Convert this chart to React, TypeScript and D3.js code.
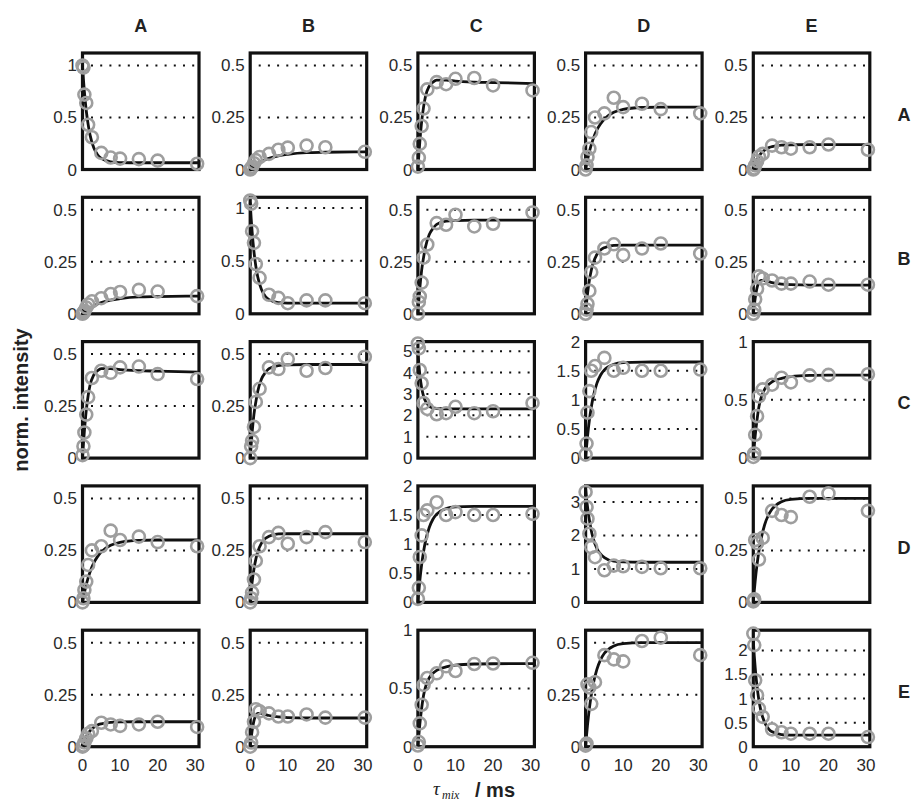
import React, { useRef, useEffect } from "react";
import { select, scaleLinear, line, curveMonotoneX } from "d3";

// row / column species
const names = ["A", "B", "C", "D", "E"];

// mixing times of the measured points and of the sampled fit curve (ms)
const obsTimes = [0, 0.25, 0.5, 1, 1.5, 2.5, 5, 7.5, 10, 15, 20, 30.5];
const fitTimes = [0, 0.25, 0.5, 1, 1.5, 2, 3, 4, 5, 7.5, 10, 15, 20, 31];
const xTicks = [0, 10, 20, 30];

// y tick sets
const ticksHalf = [0, 0.25, 0.5];
const ticksOne = [0, 0.5, 1];
const ticksTwo = [0, 0.5, 1, 1.5, 2];
const ticksThree = [0, 1, 2, 3];
const ticksFive = [0, 1, 2, 3, 4, 5];

// measured intensities (the matrix is symmetric, so only one triangle)
const obsAA = [1.0, 0.98, 0.72, 0.64, 0.43, 0.31, 0.16, 0.115, 0.105, 0.1, 0.085, 0.055];
const obsAB = [0, 0.005, 0.013, 0.03, 0.045, 0.06, 0.075, 0.095, 0.105, 0.115, 0.107, 0.085];
const obsAC = [0.014, 0.057, 0.123, 0.209, 0.293, 0.385, 0.42, 0.41, 0.436, 0.44, 0.404, 0.38];
const obsAD = [0, 0.02, 0.06, 0.1, 0.18, 0.25, 0.27, 0.345, 0.3, 0.316, 0.29, 0.27];
const obsAE = [0, 0.005, 0.02, 0.04, 0.062, 0.075, 0.115, 0.107, 0.1, 0.107, 0.12, 0.095];
const obsBB = [1.07, 1.04, 0.78, 0.67, 0.47, 0.34, 0.18, 0.15, 0.1, 0.127, 0.127, 0.1];
const obsBC = [0, 0.057, 0.083, 0.15, 0.27, 0.333, 0.436, 0.428, 0.476, 0.42, 0.433, 0.487];
const obsBD = [0, 0.02, 0.047, 0.11, 0.2, 0.27, 0.314, 0.334, 0.282, 0.314, 0.338, 0.29];
const obsBE = [0, 0.02, 0.07, 0.12, 0.18, 0.17, 0.16, 0.145, 0.145, 0.155, 0.14, 0.14];
const obsCC = [5.36, 5.13, 4.12, 3.5, 2.57, 2.3, 2.05, 2.1, 2.4, 2.1, 2.19, 2.58];
const obsCD = [0.06, 0.25, 0.78, 1.15, 1.5, 1.58, 1.72, 1.5, 1.55, 1.5, 1.5, 1.52];
const obsCE = [0.01, 0.04, 0.2, 0.36, 0.53, 0.59, 0.63, 0.69, 0.65, 0.71, 0.714, 0.72];
const obsDD = [3.3, 2.85, 2.5, 2.05, 1.65, 1.35, 0.96, 1.1, 1.08, 1.06, 1.02, 1.02];
const obsDE = [0.005, 0.015, 0.3, 0.285, 0.206, 0.31, 0.44, 0.42, 0.41, 0.508, 0.524, 0.44];
const obsEE = [2.35, 2.11, 1.38, 1.07, 0.79, 0.62, 0.36, 0.3, 0.27, 0.27, 0.27, 0.2];

// fitted curves, read at fitTimes
const fitAA = [1.0, 0.864, 0.749, 0.565, 0.434, 0.333, 0.208, 0.142, 0.106, 0.074, 0.067, 0.065, 0.065, 0.065];
const fitAB = [0, 0.004, 0.008, 0.015, 0.022, 0.028, 0.038, 0.047, 0.054, 0.066, 0.073, 0.081, 0.083, 0.085];
const fitAC = [0, 0.07, 0.13, 0.23, 0.3, 0.35, 0.4, 0.42, 0.43, 0.43, 0.425, 0.42, 0.418, 0.413];
const fitAD = [0, 0.024, 0.046, 0.085, 0.118, 0.146, 0.19, 0.22, 0.243, 0.275, 0.289, 0.298, 0.3, 0.3];
const fitAE = [0, 0.014, 0.026, 0.047, 0.063, 0.076, 0.093, 0.104, 0.11, 0.117, 0.119, 0.12, 0.12, 0.12];
const fitBB = [1.05, 0.904, 0.781, 0.588, 0.449, 0.35, 0.229, 0.166, 0.134, 0.106, 0.101, 0.1, 0.1, 0.1];
const fitBC = [0, 0.064, 0.12, 0.21, 0.27, 0.32, 0.38, 0.41, 0.43, 0.445, 0.448, 0.45, 0.45, 0.45];
const fitBD = [0, 0.052, 0.095, 0.161, 0.208, 0.243, 0.285, 0.307, 0.318, 0.329, 0.33, 0.33, 0.33, 0.33];
const fitBE = [0, 0.04, 0.075, 0.125, 0.15, 0.16, 0.16, 0.155, 0.15, 0.143, 0.14, 0.138, 0.138, 0.138];
const fitCC = [5.0, 4.4, 3.94, 3.29, 2.9, 2.67, 2.43, 2.35, 2.32, 2.3, 2.3, 2.3, 2.3, 2.3];
const fitCD = [0, 0.194, 0.365, 0.649, 0.87, 1.043, 1.282, 1.427, 1.515, 1.611, 1.639, 1.649, 1.65, 1.65];
const fitCE = [0, 0.1, 0.19, 0.33, 0.44, 0.51, 0.59, 0.63, 0.655, 0.685, 0.7, 0.71, 0.712, 0.713];
const fitDD = [3.4, 3.11, 2.87, 2.47, 2.15, 1.92, 1.61, 1.44, 1.34, 1.23, 1.21, 1.2, 1.2, 1.2];
const fitDE = [0, 0.054, 0.102, 0.183, 0.247, 0.299, 0.372, 0.419, 0.449, 0.484, 0.495, 0.5, 0.5, 0.5];
const fitEE = [2.2, 1.9, 1.65, 1.246, 0.961, 0.754, 0.505, 0.378, 0.31, 0.253, 0.242, 0.24, 0.24, 0.24];

// panel table built from the arrays above
const panels = {
  AA: { obs: obsAA, fit: fitAA, ticks: ticksOne, yMax: 1.12 },
  AB: { obs: obsAB, fit: fitAB, ticks: ticksHalf, yMax: 0.56 },
  AC: { obs: obsAC, fit: fitAC, ticks: ticksHalf, yMax: 0.56 },
  AD: { obs: obsAD, fit: fitAD, ticks: ticksHalf, yMax: 0.56 },
  AE: { obs: obsAE, fit: fitAE, ticks: ticksHalf, yMax: 0.56 },
  BB: { obs: obsBB, fit: fitBB, ticks: ticksOne, yMax: 1.1 },
  BC: { obs: obsBC, fit: fitBC, ticks: ticksHalf, yMax: 0.56 },
  BD: { obs: obsBD, fit: fitBD, ticks: ticksHalf, yMax: 0.56 },
  BE: { obs: obsBE, fit: fitBE, ticks: ticksHalf, yMax: 0.56 },
  CC: { obs: obsCC, fit: fitCC, ticks: ticksFive, yMax: 5.45 },
  CD: { obs: obsCD, fit: fitCD, ticks: ticksTwo, yMax: 2.0 },
  CE: { obs: obsCE, fit: fitCE, ticks: ticksOne, yMax: 1.0 },
  DD: { obs: obsDD, fit: fitDD, ticks: ticksThree, yMax: 3.48 },
  DE: { obs: obsDE, fit: fitDE, ticks: ticksHalf, yMax: 0.56 },
  EE: { obs: obsEE, fit: fitEE, ticks: ticksTwo, yMax: 2.42 },
};

const W = 913;
const H = 803;
const left0 = 82.5;
const stepX = 167.7;
const top0 = 53;
const stepY = 144.3;
const size = 116.5;
const sans = "'Liberation Sans', Arial, Helvetica, sans-serif";
const serif = "'Liberation Serif', 'DejaVu Serif', 'Times New Roman', serif";

const App = () => {
  const svgRef = useRef(null);

  useEffect(() => {
    const svg = select(svgRef.current);
    svg.selectAll("*").remove();

    names.forEach((rowName, i) => {
      names.forEach((colName, j) => {
        const key = i <= j ? rowName + colName : colName + rowName;
        const p = panels[key];
        const x0 = left0 + j * stepX;
        const y0 = top0 + i * stepY;

        const x = scaleLinear().domain([0, 31]).range([x0, x0 + size]);
        const y = scaleLinear().domain([0, p.yMax]).range([y0 + size, y0]);
        const g = svg.append("g");

        // dotted grid lines (none at 0 or on the top edge)
        g.selectAll(".grid")
          .data(p.ticks.filter((t) => t > 0 && t < p.yMax - 1e-6))
          .join("line")
          .attr("class", "grid")
          .attr("x1", x0 + 8.5)
          .attr("x2", x0 + size - 3)
          .attr("y1", (t) => y(t))
          .attr("y2", (t) => y(t))
          .attr("stroke", "#111")
          .attr("stroke-width", 2)
          .attr("stroke-dasharray", "2 7.2");

        // y tick labels
        g.selectAll(".ytick")
          .data(p.ticks)
          .join("text")
          .attr("class", "ytick")
          .attr("x", x0 - 5.5)
          .attr("y", (t) => y(t) + 6)
          .attr("text-anchor", "end")
          .attr("font-family", sans)
          .attr("font-size", 17)
          .attr("fill", "#2a2a2a")
          .text((t) => String(t));

        // x tick labels on the bottom row only
        if (i === names.length - 1) {
          g.selectAll(".xtick")
            .data(xTicks)
            .join("text")
            .attr("class", "xtick")
            .attr("x", (t) => x(t))
            .attr("y", y0 + size + 24)
            .attr("text-anchor", "middle")
            .attr("font-family", sans)
            .attr("font-size", 17)
            .attr("fill", "#2a2a2a")
            .text((t) => String(t));
        }

        // box
        g.append("rect")
          .attr("x", x0)
          .attr("y", y0)
          .attr("width", size)
          .attr("height", size)
          .attr("fill", "none")
          .attr("stroke", "#111")
          .attr("stroke-width", 3.2);

        // fitted curve
        const fitLine = line()
          .x((d) => x(d[0]))
          .y((d) => y(d[1]))
          .curve(curveMonotoneX);
        g.append("path")
          .datum(fitTimes.map((t, k) => [t, p.fit[k]]))
          .attr("d", fitLine)
          .attr("fill", "none")
          .attr("stroke", "#111")
          .attr("stroke-width", 2.8);

        // measured points
        g.selectAll(".pt")
          .data(obsTimes.map((t, k) => [t, p.obs[k]]))
          .join("circle")
          .attr("class", "pt")
          .attr("cx", (d) => x(d[0]))
          .attr("cy", (d) => y(d[1]))
          .attr("r", 6)
          .attr("fill", "none")
          .attr("stroke", "#9e9e9e")
          .attr("stroke-width", 2.6);
      });
    });

    // column headers
    svg.selectAll(".colname")
      .data(names)
      .join("text")
      .attr("class", "colname")
      .attr("x", (d, j) => left0 + j * stepX + size / 2)
      .attr("y", 32)
      .attr("text-anchor", "middle")
      .attr("font-family", sans)
      .attr("font-weight", "bold")
      .attr("font-size", 18)
      .attr("fill", "#222")
      .text((d) => d);

    // row headers
    svg.selectAll(".rowname")
      .data(names)
      .join("text")
      .attr("class", "rowname")
      .attr("x", 904)
      .attr("y", (d, i) => top0 + i * stepY + size / 2 + 9.5)
      .attr("text-anchor", "middle")
      .attr("font-family", sans)
      .attr("font-weight", "bold")
      .attr("font-size", 18)
      .attr("fill", "#222")
      .text((d) => d);

    // y axis title
    svg.append("text")
      .attr("transform", "translate(28,400) rotate(-90)")
      .attr("text-anchor", "middle")
      .attr("font-family", sans)
      .attr("font-weight", "bold")
      .attr("font-size", 20)
      .attr("fill", "#222")
      .text("norm. intensity");

    // x axis title: tau_mix / ms
    svg.append("text")
      .attr("x", 433)
      .attr("y", 795)
      .attr("font-family", serif)
      .attr("font-style", "italic")
      .attr("font-size", 19)
      .attr("fill", "#222")
      .text("τ");
    svg.append("text")
      .attr("x", 442)
      .attr("y", 798.5)
      .attr("font-family", serif)
      .attr("font-style", "italic")
      .attr("font-size", 12)
      .attr("fill", "#222")
      .text("mix");
    svg.append("text")
      .attr("x", 475)
      .attr("y", 797)
      .attr("font-family", sans)
      .attr("font-weight", "bold")
      .attr("font-size", 20)
      .attr("fill", "#222")
      .text("/ ms");
  }, []);

  return (
    <svg
      ref={svgRef}
      width={W}
      height={H}
      style={{ position: "absolute", left: 0, top: 0, background: "#fff" }}
    />
  );
};

export default App;
